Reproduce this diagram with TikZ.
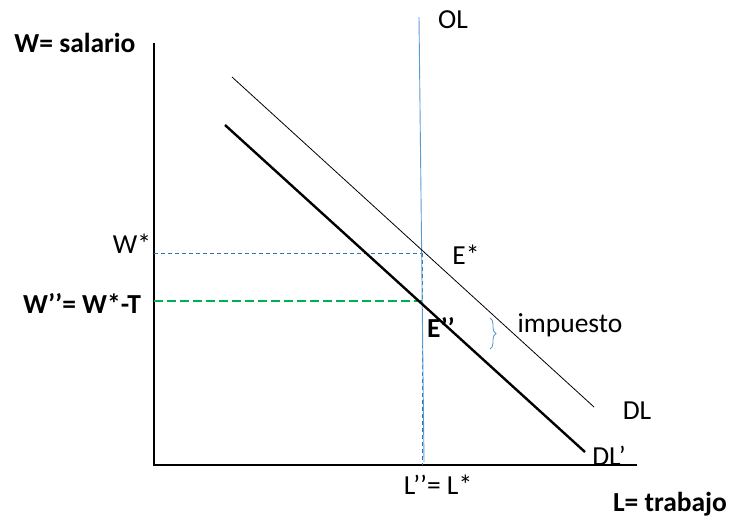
\documentclass[tikz,border=0pt]{standalone}
\usepackage{fontspec}
\setmainfont{Carlito}
\usetikzlibrary{decorations.pathreplacing}
\definecolor{olblue}{RGB}{91,155,213}
\definecolor{dashblue}{RGB}{46,117,182}
\definecolor{taxgreen}{RGB}{0,176,80}
\tikzset{
  lbl/.style={font=\fontsize{27.5}{30}\selectfont, inner sep=0pt, anchor=base},
  blbl/.style={lbl, font=\fontsize{27.5}{30}\selectfont\bfseries},
  axis/.style={line width=2.2pt},
  guide/.style={dashblue, dash pattern=on 4pt off 3pt, line width=0.9pt},
}
\begin{document}
\begin{tikzpicture}[x=1pt,y=-1pt]
\useasboundingbox (0,0) rectangle (732,525);
% axes
\coordinate (O) at (154,465);
\coordinate (ytop) at (154,43);
\coordinate (xend) at (637,465);
\draw[axis] (ytop) -- (O) -- (xend);
% reference lines
\coordinate (wstar) at (154,253);
\coordinate (Estar) at (422,253);
\coordinate (wpp) at (154,301);
\coordinate (Epp) at (422,301);
\coordinate (Lstar) at (422,465);
\draw[guide] (wstar) -- (Estar);
\draw[guide] (Estar) -- (Lstar);
\draw[taxgreen, dash pattern=on 9pt off 4pt, line width=2.5pt] (wpp) -- (Epp);
% OL
\coordinate (OLtop) at (419,17);
\coordinate (OLbot) at (424,462);
\draw[olblue, line width=0.9pt] (OLtop) -- (OLbot);
% demand curves
\coordinate (DLa) at (232,77);
\coordinate (DLb) at (594,407);
\draw[line width=0.8pt] (DLa) -- (DLb);
\coordinate (DLpa) at (225,125);
\coordinate (DLpb) at (585,452);
\draw[line width=2.4pt] (DLpa) -- (DLpb);
% brace
\coordinate (bra) at (490,318);
\coordinate (brb) at (490,349);
\draw[olblue, line width=0.9pt, decorate, decoration={brace, amplitude=6pt}] (bra) -- (brb);
% labels
\node[lbl] (lOL) at (453,28) {OL};
\node[blbl] (lW) at (75,52) {W= salario};
\node[lbl] (lWs) at (132,253) {W*};
\node[lbl] (lEs) at (466,264) {E*};
\node[blbl] (lWpp) at (82,313) {W’’= W*-T};
\node[blbl] (lEpp) at (441,337) {E’’};
\node[lbl] (limp) at (570,332) {impuesto};
\node[lbl] (lDL) at (637,419) {DL};
\node[lbl] (lDLp) at (609,465) {DL’};
\node[lbl] (lL) at (438,494) {L’’= L*};
\node[blbl] (lLt) at (670,511) {L= trabajo};
\end{tikzpicture}
\end{document}
